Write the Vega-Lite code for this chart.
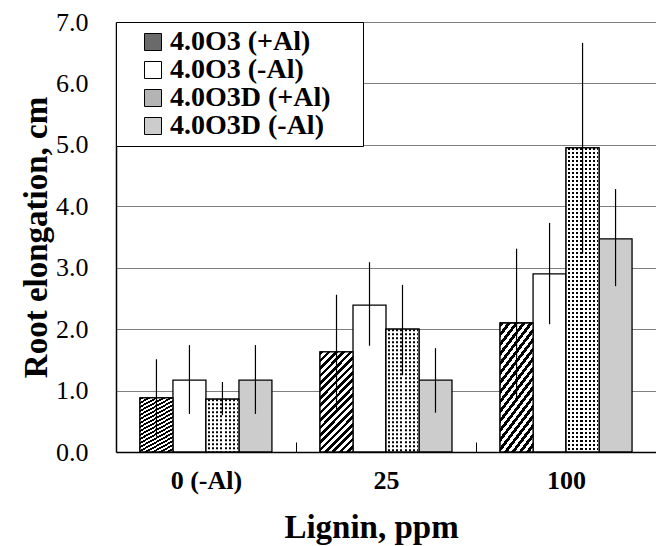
{
  "$schema": "https://vega.github.io/schema/vega-lite/v6.json",
  "width": 540,
  "height": 430,
  "autosize": "none",
  "padding": {"left": 116, "top": 22, "right": 0, "bottom": 94},
  "background": "white",
  "data": {
    "values": [
      {"lignin": "0 (-Al)", "series": "4.0O3 (+Al)", "mean": 0.88, "lo": 0.25, "hi": 1.51},
      {"lignin": "0 (-Al)", "series": "4.0O3 (-Al)", "mean": 1.17, "lo": 0.62, "hi": 1.74},
      {"lignin": "0 (-Al)", "series": "4.0O3D (+Al)", "mean": 0.86, "lo": 0.60, "hi": 1.14},
      {"lignin": "0 (-Al)", "series": "4.0O3D (-Al)", "mean": 1.17, "lo": 0.62, "hi": 1.74},
      {"lignin": "25", "series": "4.0O3 (+Al)", "mean": 1.63, "lo": 0.70, "hi": 2.56},
      {"lignin": "25", "series": "4.0O3 (-Al)", "mean": 2.39, "lo": 1.73, "hi": 3.09},
      {"lignin": "25", "series": "4.0O3D (+Al)", "mean": 2.00, "lo": 1.25, "hi": 2.72},
      {"lignin": "25", "series": "4.0O3D (-Al)", "mean": 1.17, "lo": 0.64, "hi": 1.69},
      {"lignin": "100", "series": "4.0O3 (+Al)", "mean": 2.10, "lo": 0.85, "hi": 3.31},
      {"lignin": "100", "series": "4.0O3 (-Al)", "mean": 2.90, "lo": 2.08, "hi": 3.73},
      {"lignin": "100", "series": "4.0O3D (+Al)", "mean": 4.95, "lo": 3.24, "hi": 6.66},
      {"lignin": "100", "series": "4.0O3D (-Al)", "mean": 3.47, "lo": 2.70, "hi": 4.28}
    ]
  },
  "encoding": {
    "x": {
      "field": "lignin",
      "type": "nominal",
      "sort": ["0 (-Al)", "25", "100"],
      "scale": {"paddingInner": 0.267, "paddingOuter": 0.133},
      "axis": {
        "title": "Lignin, ppm",
        "labelAngle": 0,
        "labelFont": "Liberation Serif",
        "labelFontSize": 26,
        "labelFontWeight": "bold",
        "labelColor": "black",
        "labelBaseline": "top",
        "labelPadding": 25,
        "ticks": true,
        "tickSize": -10,
        "tickOffset": 90,
        "labelOffset": -90,
        "tickColor": "black",
        "tickWidth": 1,
        "domainColor": "black",
        "domainWidth": 1.5,
        "titleFont": "Liberation Serif",
        "titleFontSize": 33,
        "titleFontWeight": "bold",
        "titleColor": "black",
        "titlePadding": 18,
        "titleX": 255
      }
    },
    "xOffset": {
      "field": "series",
      "type": "nominal",
      "sort": ["4.0O3 (+Al)", "4.0O3 (-Al)", "4.0O3D (+Al)", "4.0O3D (-Al)"],
      "scale": {"paddingInner": 0, "paddingOuter": 0}
    }
  },
  "layer": [
    {
      "mark": {"type": "bar", "stroke": "black", "strokeWidth": 1.3, "opacity": 1},
      "encoding": {
        "y": {
          "field": "mean",
          "type": "quantitative",
          "scale": {"domain": [0, 7], "nice": false},
          "axis": {
            "values": [0, 1, 2, 3, 4, 5, 6, 7],
            "format": ".1f",
            "labelFont": "Liberation Serif",
            "labelFontSize": 26,
            "labelColor": "black",
            "labelPadding": 28,
            "labelFlush": false,
            "ticks": false,
            "domainColor": "black",
            "domainWidth": 1.5,
            "grid": true,
            "gridColor": "#808080",
            "gridWidth": 1.2,
            "title": "Root elongation, cm",
            "titleFont": "Liberation Serif",
            "titleFontSize": 33,
            "titleFontWeight": "bold",
            "titleColor": "black",
            "titlePadding": 2
          }
        },
        "fill": {
          "field": "series",
          "type": "nominal",
          "sort": ["4.0O3 (+Al)", "4.0O3 (-Al)", "4.0O3D (+Al)", "4.0O3D (-Al)"],
          "scale": {"range": ["#6a6a6a", "white", "#b4b4b4", "#cccccc"]},
          "legend": {
            "orient": "none",
            "legendX": 0,
            "legendY": 0,
            "title": " ",
            "titleOrient": "right",
            "titlePadding": 26,
            "titleFontSize": 11,
            "direction": "vertical",
            "strokeColor": "black",
            "fillColor": "white",
            "padding": 6,
            "symbolType": "square",
            "symbolSize": 289,
            "symbolStrokeColor": "black",
            "symbolStrokeWidth": 1,
            "symbolOffset": 17,
            "labelFont": "Liberation Serif",
            "labelFontSize": 28,
            "labelFontWeight": "bold",
            "labelColor": "black",
            "labelOffset": 3,
            "labelLimit": 400,
            "rowPadding": 0
          }
        }
      }
    },
    {
      "transform": [{"filter": "datum.series === '4.0O3 (+Al)'"}],
      "mark": {
        "type": "bar",
        "stroke": "black",
        "strokeWidth": 1.3,
        "fill": {
          "gradient": "linear",
          "x1": 0, "y1": 0, "x2": 0.4, "y2": 1.2,
          "stops": [
            {"offset": 0, "color": "black"}, {"offset": 0.02778, "color": "black"}, {"offset": 0.02778, "color": "white"}, {"offset": 0.05556, "color": "white"},
            {"offset": 0.05556, "color": "black"}, {"offset": 0.08333, "color": "black"}, {"offset": 0.08333, "color": "white"}, {"offset": 0.11111, "color": "white"},
            {"offset": 0.11111, "color": "black"}, {"offset": 0.13889, "color": "black"}, {"offset": 0.13889, "color": "white"}, {"offset": 0.16667, "color": "white"},
            {"offset": 0.16667, "color": "black"}, {"offset": 0.19444, "color": "black"}, {"offset": 0.19444, "color": "white"}, {"offset": 0.22222, "color": "white"},
            {"offset": 0.22222, "color": "black"}, {"offset": 0.25, "color": "black"}, {"offset": 0.25, "color": "white"}, {"offset": 0.27778, "color": "white"},
            {"offset": 0.27778, "color": "black"}, {"offset": 0.30556, "color": "black"}, {"offset": 0.30556, "color": "white"}, {"offset": 0.33333, "color": "white"},
            {"offset": 0.33333, "color": "black"}, {"offset": 0.36111, "color": "black"}, {"offset": 0.36111, "color": "white"}, {"offset": 0.38889, "color": "white"},
            {"offset": 0.38889, "color": "black"}, {"offset": 0.41667, "color": "black"}, {"offset": 0.41667, "color": "white"}, {"offset": 0.44444, "color": "white"},
            {"offset": 0.44444, "color": "black"}, {"offset": 0.47222, "color": "black"}, {"offset": 0.47222, "color": "white"}, {"offset": 0.5, "color": "white"},
            {"offset": 0.5, "color": "black"}, {"offset": 0.52778, "color": "black"}, {"offset": 0.52778, "color": "white"}, {"offset": 0.55556, "color": "white"},
            {"offset": 0.55556, "color": "black"}, {"offset": 0.58333, "color": "black"}, {"offset": 0.58333, "color": "white"}, {"offset": 0.61111, "color": "white"},
            {"offset": 0.61111, "color": "black"}, {"offset": 0.63889, "color": "black"}, {"offset": 0.63889, "color": "white"}, {"offset": 0.66667, "color": "white"},
            {"offset": 0.66667, "color": "black"}, {"offset": 0.69444, "color": "black"}, {"offset": 0.69444, "color": "white"}, {"offset": 0.72222, "color": "white"},
            {"offset": 0.72222, "color": "black"}, {"offset": 0.75, "color": "black"}, {"offset": 0.75, "color": "white"}, {"offset": 0.77778, "color": "white"},
            {"offset": 0.77778, "color": "black"}, {"offset": 0.80556, "color": "black"}, {"offset": 0.80556, "color": "white"}, {"offset": 0.83333, "color": "white"},
            {"offset": 0.83333, "color": "black"}, {"offset": 0.86111, "color": "black"}, {"offset": 0.86111, "color": "white"}, {"offset": 0.88889, "color": "white"},
            {"offset": 0.88889, "color": "black"}, {"offset": 0.91667, "color": "black"}, {"offset": 0.91667, "color": "white"}, {"offset": 0.94444, "color": "white"},
            {"offset": 0.94444, "color": "black"}, {"offset": 0.97222, "color": "black"}, {"offset": 0.97222, "color": "white"}, {"offset": 1, "color": "white"}
          ]
        }
      },
      "encoding": {
        "y": {"field": "mean", "type": "quantitative"}
      }
    },
    {
      "transform": [{"filter": "datum.series === '4.0O3D (+Al)'"}],
      "mark": {"type": "bar", "fill": "white", "stroke": null},
      "encoding": {
        "y": {"field": "mean", "type": "quantitative"}
      }
    },
    {
      "transform": [{"filter": "datum.series === '4.0O3D (+Al)'"}],
      "mark": {"type": "rule", "color": "black", "strokeWidth": 31, "strokeDash": [2, 2]},
      "encoding": {
        "y": {"field": "mean", "type": "quantitative"},
        "y2": {"datum": 0}
      }
    },
    {
      "transform": [{"filter": "datum.series === '4.0O3D (+Al)'"}],
      "mark": {
        "type": "bar",
        "stroke": "black",
        "strokeWidth": 1.3,
        "fill": {
          "gradient": "linear",
          "x1": 0, "y1": 0, "x2": 1, "y2": 0,
          "stops": [
            {"offset": 0, "color": "white"}, {"offset": 0.0625, "color": "white"}, {"offset": 0.0625, "color": "rgba(255,255,255,0)"}, {"offset": 0.125, "color": "rgba(255,255,255,0)"},
            {"offset": 0.125, "color": "white"}, {"offset": 0.1875, "color": "white"}, {"offset": 0.1875, "color": "rgba(255,255,255,0)"}, {"offset": 0.25, "color": "rgba(255,255,255,0)"},
            {"offset": 0.25, "color": "white"}, {"offset": 0.3125, "color": "white"}, {"offset": 0.3125, "color": "rgba(255,255,255,0)"}, {"offset": 0.375, "color": "rgba(255,255,255,0)"},
            {"offset": 0.375, "color": "white"}, {"offset": 0.4375, "color": "white"}, {"offset": 0.4375, "color": "rgba(255,255,255,0)"}, {"offset": 0.5, "color": "rgba(255,255,255,0)"},
            {"offset": 0.5, "color": "white"}, {"offset": 0.5625, "color": "white"}, {"offset": 0.5625, "color": "rgba(255,255,255,0)"}, {"offset": 0.625, "color": "rgba(255,255,255,0)"},
            {"offset": 0.625, "color": "white"}, {"offset": 0.6875, "color": "white"}, {"offset": 0.6875, "color": "rgba(255,255,255,0)"}, {"offset": 0.75, "color": "rgba(255,255,255,0)"},
            {"offset": 0.75, "color": "white"}, {"offset": 0.8125, "color": "white"}, {"offset": 0.8125, "color": "rgba(255,255,255,0)"}, {"offset": 0.875, "color": "rgba(255,255,255,0)"},
            {"offset": 0.875, "color": "white"}, {"offset": 0.9375, "color": "white"}, {"offset": 0.9375, "color": "rgba(255,255,255,0)"}, {"offset": 1, "color": "rgba(255,255,255,0)"}
          ]
        }
      },
      "encoding": {
        "y": {"field": "mean", "type": "quantitative"}
      }
    },
    {
      "mark": {"type": "rule", "color": "black", "strokeWidth": 1.2},
      "encoding": {
        "y": {"field": "lo", "type": "quantitative"},
        "y2": {"field": "hi"}
      }
    }
  ],
  "config": {
    "view": {"stroke": null}
  }
}
